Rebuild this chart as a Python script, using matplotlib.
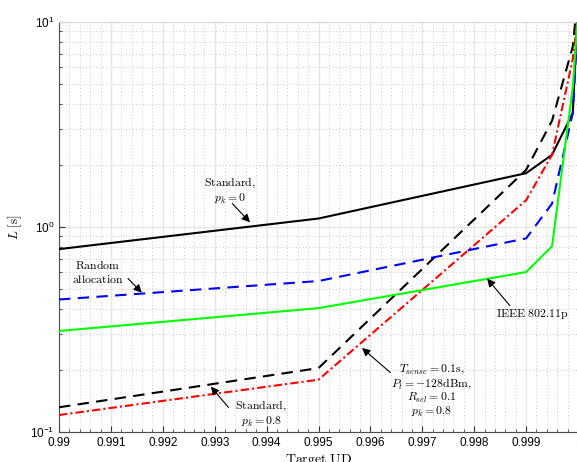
import matplotlib
matplotlib.use("Agg")
import matplotlib.pyplot as plt
from matplotlib.ticker import MultipleLocator, LogLocator, NullFormatter

plt.rcParams['font.family'] = ['Liberation Sans', 'DejaVu Sans']
plt.rcParams['font.size'] = 8

# target UD values (x axis)
ud = [0.99, 0.995, 0.999, 0.9995, 0.9999, 0.99999]

# latency L [s] for each scheme
std_p0 = [0.78, 1.10, 1.83, 2.25, 3.6, 11.0]
std_p08 = [0.132, 0.205, 1.90, 3.3, 7.6, 13.0]
cam_p08 = [0.121, 0.180, 1.35, 2.25, 6.6, 10.5]
random_alloc = [0.443, 0.545, 0.88, 1.3, 3.6, 9.5]
ieee = [0.311, 0.402, 0.603, 0.805, 4.8, 10.0]

fig = plt.figure(figsize=(5.77, 4.62), dpi=100)
ax = fig.add_axes([59 / 577, 1 - 432 / 462, (578 - 59) / 577, 410 / 462])

lw = 1.5
ax.plot(ud, std_p0, color='k', lw=lw, zorder=3)
ax.plot(ud, std_p08, color='k', lw=lw, ls=(0, (5.5, 3.5)), zorder=3)
ax.plot(ud, cam_p08, color='r', lw=lw, ls=(0, (4, 1.5, 1, 1.5)), zorder=3)
ax.plot(ud, random_alloc, color='b', lw=lw, ls=(0, (5.5, 3.5)), zorder=3)
ax.plot(ud, ieee, color=(0, 1, 0), lw=lw, zorder=3)

ax.set_yscale('log')
ax.set_xlim(0.99, 1.0)
ax.set_ylim(0.1, 10)
ax.xaxis.set_major_locator(MultipleLocator(0.001))
ax.xaxis.set_minor_locator(MultipleLocator(0.0002))
ax.xaxis.set_major_formatter(matplotlib.ticker.FuncFormatter(
    lambda v, p: '1' if abs(v - 1) < 1e-9 else '%g' % round(v, 3)))
ax.yaxis.set_minor_locator(LogLocator(base=10, subs=range(2, 10)))
ax.yaxis.set_minor_formatter(NullFormatter())

ax.grid(True, which='major', color='0.9', lw=1.0, ls='-', zorder=0)
ax.grid(True, which='minor', color='0.72', lw=0.6, ls=(0, (1, 3)), zorder=0)
ax.tick_params(which='both', direction='in', top=False, right=False,
               color='0.2')
ax.tick_params(which='major', length=4, labelsize=8.5)
ax.tick_params(which='minor', length=2.5)
for s in ['left', 'bottom']:
    ax.spines[s].set_color('0.3')
for s in ['top', 'right']:
    ax.spines[s].set_color('0.85')

ax.set_xlabel(r'$\mathrm{Target\ UD}$', fontsize=10, math_fontfamily='cm',
              labelpad=2)
ax.set_ylabel(r'$L\ [\mathrm{s}]$', fontsize=9.5, math_fontfamily='cm',
              labelpad=4)

arrow = dict(arrowstyle='-|>', color='k', lw=0.8, mutation_scale=12,
             shrinkA=0, shrinkB=0)
tkw = dict(fontsize=8.5, math_fontfamily='cm', ha='center', va='center')

ax.text(0.9933, 1.50, '$\\mathrm{Standard,}$\n$p_k = 0$', **tkw)
ax.annotate('', xy=(0.99368, 1.054), xytext=(0.99334, 1.30),
            arrowprops=arrow)

ax.text(0.99075, 0.60, '$\\mathrm{Random}$\n$\\mathrm{allocation}$', **tkw)
ax.annotate('', xy=(0.991595, 0.478), xytext=(0.99133, 0.561),
            arrowprops=arrow)

ax.text(0.99913, 0.378, '$\\mathrm{IEEE\\ 802.11p}$', **tkw)
ax.annotate('', xy=(0.998249, 0.56), xytext=(0.998685, 0.414),
            arrowprops=arrow)

ax.text(0.997175, 0.159,
        '$T_{sense} = 0.1\\mathrm{s},$\n$P_t = -128\\mathrm{dBm},$\n'
        '$R_{sel} = 0.1$\n$p_k = 0.8$', linespacing=1.0, **tkw)
ax.annotate('', xy=(0.995838, 0.257), xytext=(0.996384, 0.195),
            arrowprops=arrow)

ax.text(0.993896, 0.1228, '$\\mathrm{Standard,}$\n$p_k = 0.8$', **tkw)
ax.annotate('', xy=(0.992926, 0.1664), xytext=(0.993265, 0.1318),
            arrowprops=arrow)

fig.savefig('out.png', dpi=100)
